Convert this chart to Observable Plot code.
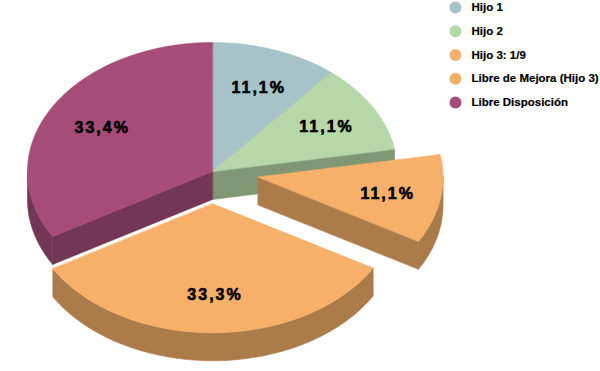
<!DOCTYPE html>
<html><head><meta charset="utf-8">
<script src="https://cdn.jsdelivr.net/npm/d3@7"></script>
<script src="https://cdn.jsdelivr.net/npm/@observablehq/plot@0.6"></script>
<style>
body{margin:0;background:#fff;}
</style></head><body><div id="chart"></div>
<script>
const categories = ["Hijo 1","Hijo 2","Hijo 3: 1/9","Libre de Mejora (Hijo 3)","Libre Disposición"];
const values = [11.1, 11.1, 11.1, 33.3, 33.4];
const labels = ["11,1%","11,1%","11,1%","33,3%","33,4%"];
const exploded = [false, false, true, true, false];
const colors = ["#a5c3c9","#b6d7a7","#f6b06a","#f6b06a","#a54d78"];

const W = 600, H = 371, cx = 212, cy = 171, rx = 185, ry = 129, depth = 28, explode = 0.25, labelR = 0.7;
const darker = c => { const k = d3.rgb(c); return d3.rgb(k.r*0.7, k.g*0.7, k.b*0.7).formatHex(); };

const arcs = d3.pie().sort(null).startAngle(0).endAngle(2*Math.PI)(values);
const slices = arcs.map((a, i) => {
  const mid = (a.startAngle + a.endAngle) / 2;
  const e = exploded[i] ? explode : 0;
  return {i, a0: a.startAngle, a1: a.endAngle, mid, ox: e*rx*Math.sin(mid), oy: -e*ry*Math.cos(mid)};
});
const pt = (s, t, r = 1, dz = 0) => [cx + s.ox + r*rx*Math.sin(t), cy + s.oy - r*ry*Math.cos(t) + dz];
const arcPts = (s, t0, t1, dz = 0) => {
  const n = Math.max(2, Math.ceil((t1 - t0) / (Math.PI/180)));
  return d3.range(n + 1).map(k => pt(s, t0 + (t1 - t0)*k/n, 1, dz));
};

const polys = [];
const order = slices.slice().sort((a, b) => (-Math.cos(a.mid)) - (-Math.cos(b.mid)));
for (const s of order) {
  const side = darker(colors[s.i]);
  const c0 = pt(s, 0, 0), c1 = pt(s, 0, 0, depth);
  if (Math.sin(s.a0) < -1e-6) {
    polys.push({pts: [c0, pt(s, s.a0), pt(s, s.a0, 1, depth), c1], fill: side});
  }
  if (Math.sin(s.a1) > 1e-6) {
    polys.push({pts: [c0, pt(s, s.a1), pt(s, s.a1, 1, depth), c1], fill: side});
  }
  const t0 = Math.max(s.a0, Math.PI/2), t1 = Math.min(s.a1, 3*Math.PI/2);
  if (t1 > t0) {
    polys.push({pts: [...arcPts(s, t0, t1), ...arcPts(s, t0, t1, depth).reverse()], fill: side});
  }
  polys.push({pts: [c0, ...arcPts(s, s.a0, s.a1)], fill: colors[s.i]});
}

const labelData = slices.map(s => { const p = pt(s, s.mid, labelR); return {x: p[0] + 2, y: p[1] + 1, text: labels[s.i]}; });

const plot = Plot.plot({
  width: W, height: H, margin: 0,
  x: {domain: [0, W], range: [0, W], axis: null},
  y: {domain: [0, H], range: [0, H], axis: null},
  color: {type: "identity"},
  style: {fontFamily: "'Liberation Sans', Arial, sans-serif", background: "#fff"},
  marks: [
    ...polys.map(p => Plot.line(p.pts, {x: d => d[0], y: d => d[1], fill: p.fill, stroke: p.fill, strokeWidth: 0.6, curve: "linear-closed"})),
    Plot.text(labelData, {x: "x", y: "y", text: "text", fontSize: 16, fontWeight: "bold", fill: "#000", stroke: "#000", strokeWidth: 0.6}),
    Plot.dot(categories, {x: () => 455, y: (d, i) => 7 + i*23.75, r: 6, fill: (d, i) => colors[i], stroke: null}),
    Plot.text(categories, {x: () => 471, y: (d, i) => 7 + i*23.75, text: d => d, textAnchor: "start", fontSize: 11.5, fontWeight: "bold", fill: "#000", stroke: "#000", strokeWidth: 0.2})
  ]
});
d3.select(plot).selectAll("text").filter(function() { return labels.includes(this.textContent); })
  .attr("letter-spacing", "2px").style("letter-spacing", "2px");
document.getElementById("chart").appendChild(plot);
</script></body></html>
